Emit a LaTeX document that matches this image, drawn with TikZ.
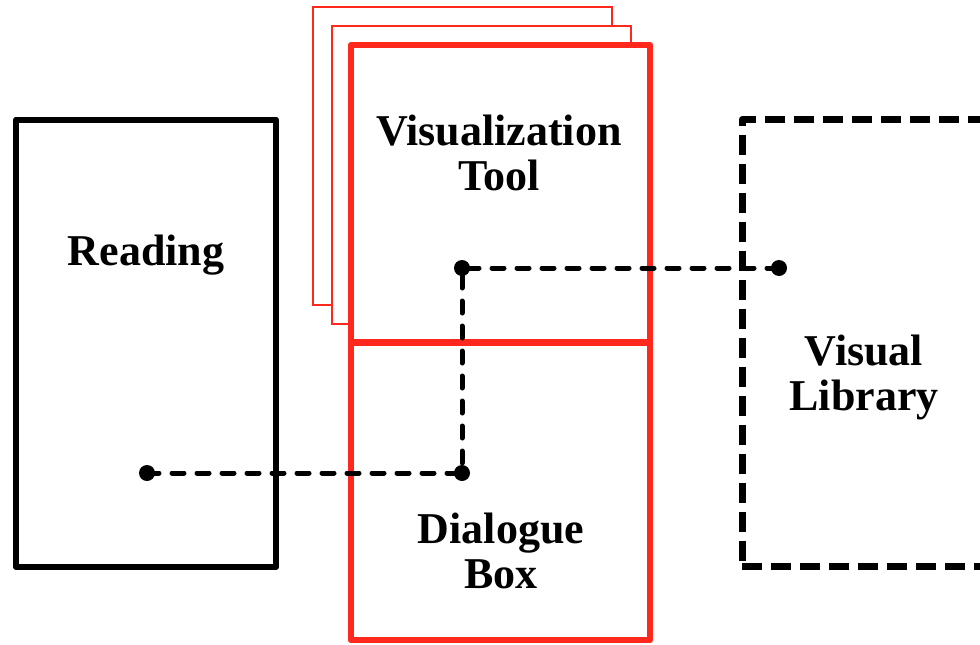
\documentclass[tikz,border=0pt]{standalone}
\usepackage{fontspec}
\setmainfont{Liberation Serif}
\definecolor{boxred}{RGB}{255,40,28}
\begin{document}
\begin{tikzpicture}[x=1pt,y=-1pt,
  redsheet/.style={draw=boxred,line width=2pt,fill=white,minimum width=299pt,minimum height=298pt,inner sep=0pt,outer sep=0pt,anchor=north west},
  redbox/.style={draw=boxred,line width=6.5pt,fill=white,minimum width=299pt,minimum height=297.5pt,inner sep=0pt,outer sep=0pt,anchor=north west,line join=round},
  blackbox/.style={draw=black,line width=6pt,minimum width=260pt,minimum height=447.5pt,inner sep=0pt,outer sep=0pt,anchor=north west,line join=round},
  dashbox/.style={draw=black,line width=7pt,dash pattern=on 20pt off 9pt,minimum width=262pt,minimum height=447pt,inner sep=0pt,outer sep=0pt,anchor=north west,line join=round},
  label/.style={font=\fontsize{44}{45}\selectfont\bfseries,align=center,anchor=base,inner sep=0pt},
  conn/.style={draw=black,line width=5pt,line cap=round,dash pattern=on 12pt off 13pt},
  dot/.style={fill=black}]
\useasboundingbox (0,0) rectangle (980,645);
\clip (0,0) rectangle (980,645);
\node[redsheet] (sheetA) at (313,7) {};
\node[redsheet] (sheetB) at (332,26) {};
\node[redbox] (viz) at (351,45) {};
\node[redbox] (dial) at (351,342.5) {};
\node[blackbox] (read) at (16,119.5) {};
\node[dashbox] (lib) at (742,119.5) {};
\node[label] (readt) at (146,265) {Reading};
\node[label] (vizt) at (499,190) {Visualization\\Tool};
\node[label] (dialt) at (501,588) {Dialogue\\Box};
\node[label] (libt) at (864,410) {Visual\\Library};
\coordinate (p1) at (147,473);
\coordinate (p2) at (462,473);
\coordinate (p3) at (462,268);
\coordinate (p4) at (779,268);
\draw[conn] (p1) -- (p2) -- (p3) -- (p4);
\foreach \p in {p1,p2,p3,p4} \fill[dot] (\p) circle (8pt);
\end{tikzpicture}
\end{document}
